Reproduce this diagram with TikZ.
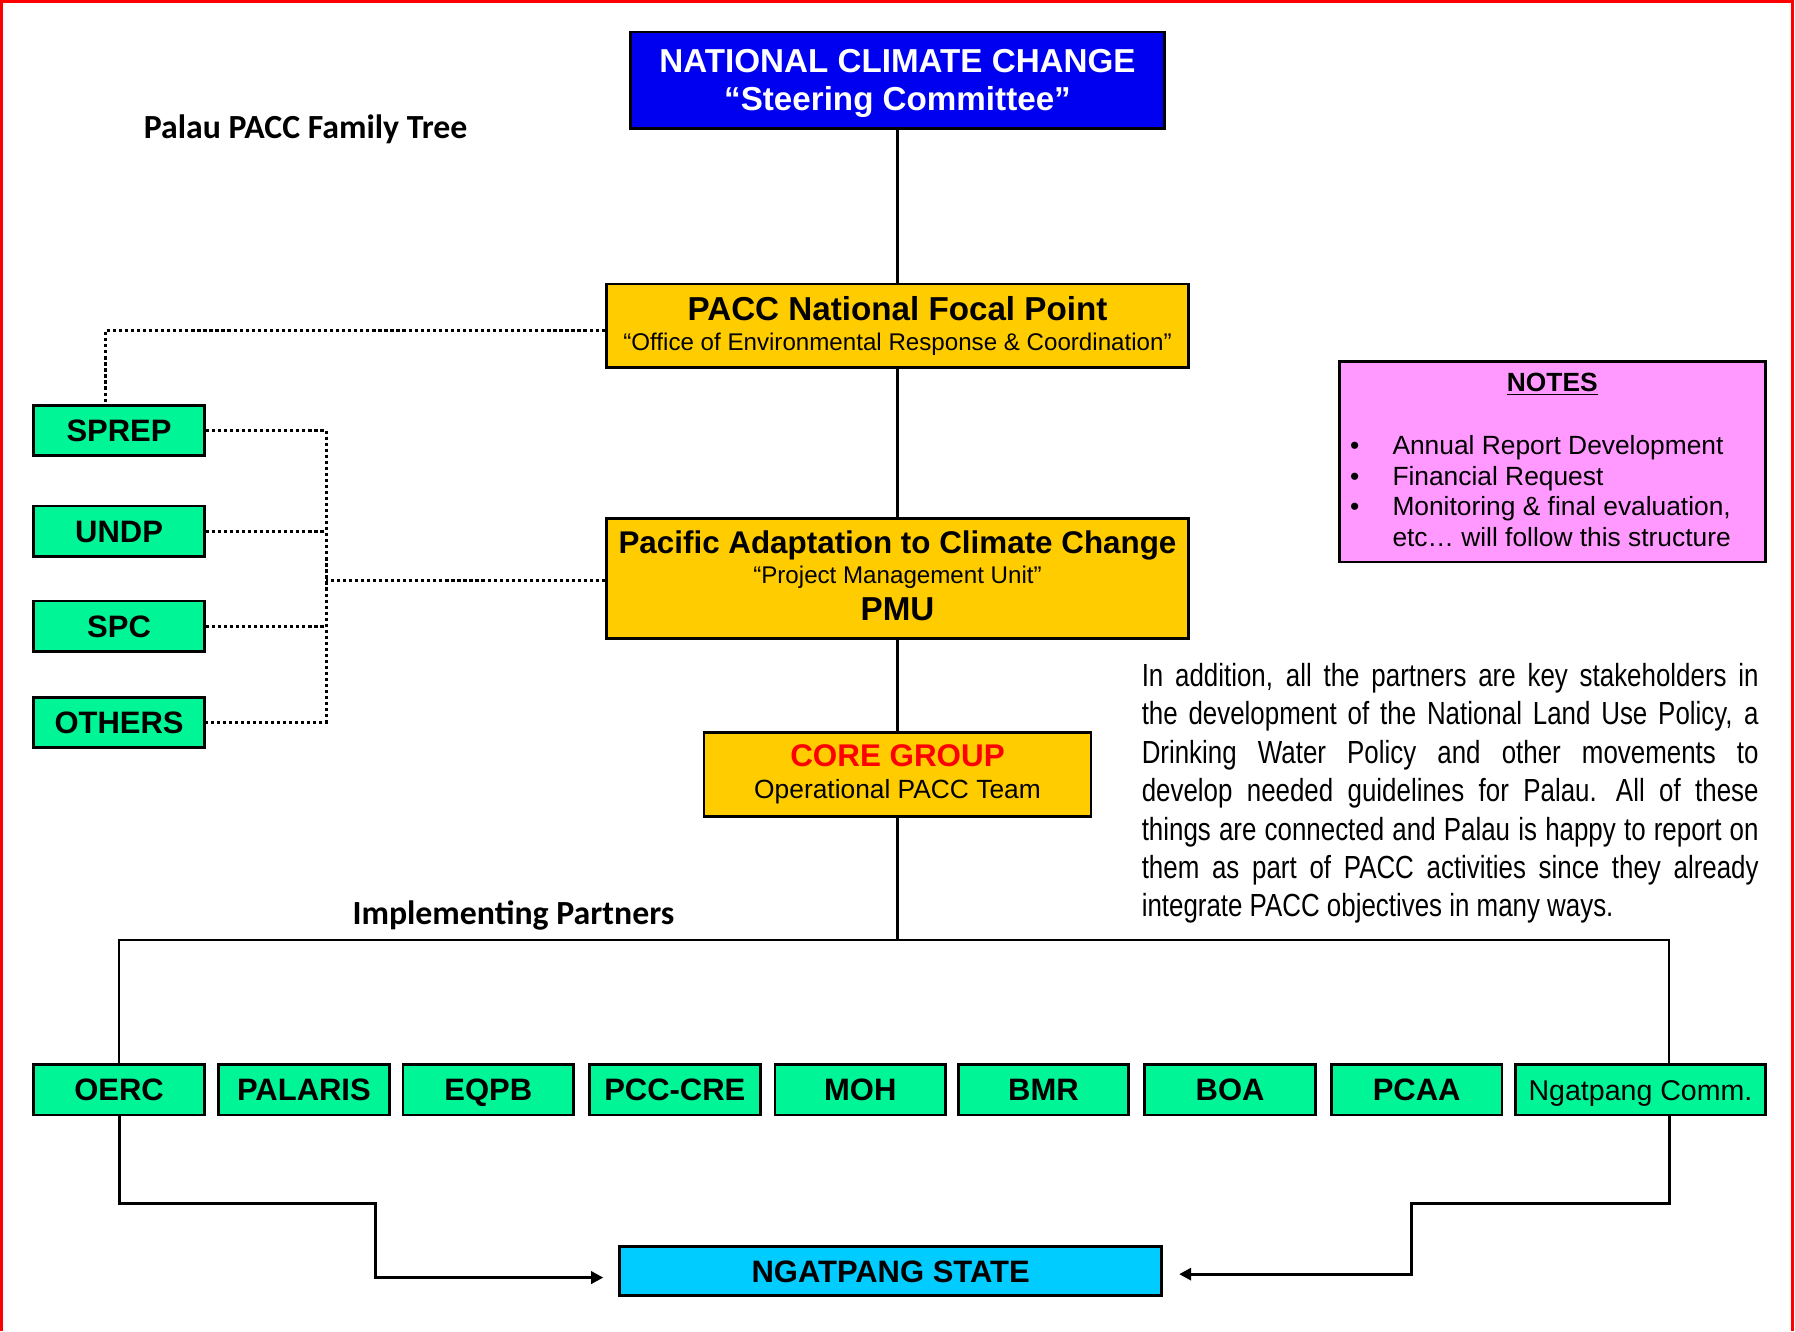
\documentclass[tikz,border=0pt]{standalone}
\usepackage{fontspec}
\setmainfont{Liberation Sans}
\newfontfamily\narrowfont[FakeStretch=0.81]{Liberation Sans}
\newfontfamily\calibfont{Carlito}
\usetikzlibrary{arrows.meta}

\definecolor{ncblue}{RGB}{0,0,240}
\definecolor{pgold}{RGB}{255,204,0}
\definecolor{pgreen}{RGB}{0,245,150}
\definecolor{pcyan}{RGB}{0,204,255}
\definecolor{ppink}{RGB}{255,153,255}

\newcommand{\ligne}[1]{\makebox[10.78cm][s]{\spaceskip=0.25em plus 1em\relax #1}}

\tikzset{boite/.style = {draw, line width=1.4pt, minimum width=#1, align=center, inner sep=0pt},
         boite/.default=2.98cm,
         partner/.style = {boite=#1, fill=pgreen, minimum height=0.88cm, text height=11pt, text depth=0pt,
                           font=\bfseries\fontsize{15.4}{18}\selectfont},
         partner/.default=2.98cm,
         lien/.style = {line width=1.2pt},
         pointille/.style = {line width=1.6pt, dash pattern=on 1.6pt off 1.4pt},
         route/.style = {line width=1.5pt, -{Triangle[length=6pt,width=6pt]}}
        }

\begin{document}
\begin{tikzpicture}[x=0.02cm, y=-0.02cm]
\useasboundingbox (0,0) rectangle (1568,1163);
\draw[red, line width=1.4pt] (1,1163) -- (1,1.5) -- (1566,1.5) -- (1566,1163);

\node[font=\calibfont\bfseries\fontsize{16.8}{20}\selectfont] at (267,113) (titre) {Palau PACC Family Tree};
\node[font=\calibfont\bfseries\fontsize{16.8}{20}\selectfont] at (448.5,800) (impl) {Implementing Partners};

% chaine centrale
\node[boite=9.34cm, fill=ncblue, minimum height=1.68cm, text=white,
      font=\bfseries\fontsize{16.5}{18.8}\selectfont] at (784,70) (ncc) {\rule{0pt}{15pt}NATIONAL CLIMATE CHANGE\\“Steering Committee”};
\node[boite=10.18cm, fill=pgold, minimum height=1.46cm] at (784,284.5) (focal)
  {{\bfseries\fontsize{16.5}{16}\selectfont PACC National Focal Point}\\[3pt]
   {\fontsize{12}{14}\selectfont “Office of Environmental Response \& Coordination”}};
\node[boite=10.16cm, fill=pgold, minimum height=2.1cm] at (784,505.5) (pmu)
  {{\bfseries\fontsize{15.6}{16}\selectfont Pacific Adaptation to Climate Change}\\[2pt]
   {\fontsize{12}{16.5}\selectfont “Project Management Unit”}\\[3.5pt]
   {\bfseries\fontsize{16.5}{16.5}\selectfont PMU\rule[-3pt]{0pt}{0pt}}};
\node[boite=6.76cm, fill=pgold, minimum height=1.46cm] at (784,676.5) (core)
  {{\color{red}\bfseries\fontsize{15.6}{16}\selectfont CORE GROUP}\\[4pt]
   {\fontsize{13.1}{17}\selectfont Operational PACC Team}};

% notes
\node[boite=7.44cm, fill=ppink, minimum height=3.5cm] at (1356,403.5) (notes) {};
\node[font=\bfseries\fontsize{13.1}{15}\selectfont] at (1356,336) (notestitre) {\underline{NOTES}};
\node[anchor=north west, inner sep=0pt, font=\fontsize{13.1}{15.2}\selectfont] at (1179,378) (notesliste)
  {\begin{tabular}{@{}l@{\hspace{0.58cm}}l@{}}
   \textbullet & Annual Report Development\\
   \textbullet & Financial Request\\
   \textbullet & Monitoring \& final evaluation,\\
               & etc\dots\ will follow this structure
   \end{tabular}};

\node[anchor=north west, inner sep=0pt, align=left,
      font=\narrowfont\fontsize{15.9}{19.1}\selectfont] at (997,579) (texte)
  {\ligne{In addition, all the partners are key stakeholders in}\\
   \ligne{the development of the National Land Use Policy, a}\\
   \ligne{Drinking Water Policy and other movements to}\\
   \ligne{develop needed guidelines for Palau.\hspace{0.6em}All of these}\\
   \ligne{things are connected and Palau is happy to report on}\\
   \ligne{them as part of PACC activities since they already}\\
   integrate PACC objectives in many ways.};

% partenaires
\foreach \nom/\y/\txt in {sprep/376/SPREP, undp/464/UNDP, spc/547/SPC, others/631/OTHERS}
  \node[partner] at (104,\y) (\nom) {\txt};
\foreach \nom/\x/\txt in {oerc/104/OERC, palaris/265.5/PALARIS, eqpb/426.5/EQPB, pcccre/589.5/PCC-CRE,
                          moh/751.5/MOH, bmr/911.5/BMR, boa/1074.5/BOA, pcaa/1237.5/PCAA}
  \node[partner] at (\x,952) (\nom) {\txt};
\node[partner=4.36cm, font=\fontsize{14.2}{17}\selectfont] at (1433,952) (ngcomm) {Ngatpang Comm.};
\node[boite=9.48cm, fill=pcyan, minimum height=0.86cm, text height=11pt, text depth=0pt,
      font=\bfseries\fontsize{15.4}{18}\selectfont] at (778,1110.5) (etat) {NGATPANG STATE};

\coordinate (bus) at (784,821);
\coordinate (busR) at (1458,821);
\coordinate (coudeG) at (328,1051);
\coordinate (flecheG) at (527,1116);
\coordinate (coudeD) at (1233,1051);
\coordinate (flecheD) at (1030,1113);
\coordinate (pointHG) at (92,289);
\coordinate (crochet) at (285,507);

\draw[lien] (ncc.south) -- (focal.north);
\draw[lien] (focal.south) -- (pmu.north);
\draw[lien] (pmu.south) -- (core.north);
\draw[lien] (core.south) -- (bus);
\draw[lien] (oerc.north) |- (busR) -- (busR |- ngcomm.north);
\draw[route] (oerc.south) |- (coudeG) |- (flecheG);
\draw[route] (busR |- ngcomm.south) |- (coudeD) |- (flecheD);

\draw[pointille] (focal.west |- pointHG) -- (pointHG) -- (pointHG |- sprep.north);
\draw[pointille] (pmu.west |- crochet) -- (crochet);
\draw[pointille] (sprep.east) -| (crochet |- others.east) -- (others.east);
\foreach \nom in {undp,spc}
  \draw[pointille] (\nom.east) -- (\nom.east -| crochet);
\end{tikzpicture}
\end{document}
